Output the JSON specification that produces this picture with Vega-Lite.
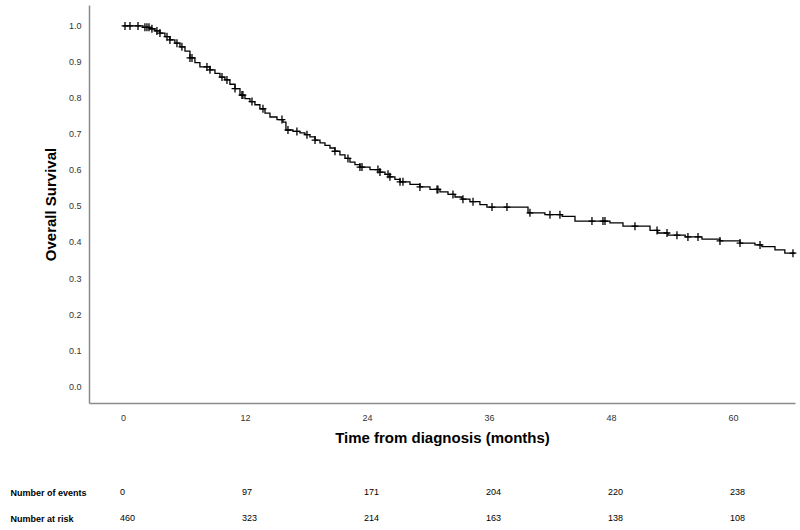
{
  "$schema": "https://vega.github.io/schema/vega-lite/v6.json",
  "padding": {"left": 10, "top": 5, "right": 5, "bottom": 5},
  "background": "white",
  "config": {"view": {"stroke": null}, "font": "Liberation Sans"},
  "datasets": {
    "km": [
      {"t":0,"s":1.0},{"t":1.97,"s":0.996},{"t":2.66,"s":0.992},{"t":3.15,"s":0.986},{"t":3.64,"s":0.98},{"t":4.13,"s":0.97},{"t":4.62,"s":0.961},{"t":5.11,"s":0.952},{"t":5.61,"s":0.942},{"t":6.1,"s":0.93},{"t":6.59,"s":0.911},{"t":7.08,"s":0.898},{"t":7.57,"s":0.886},{"t":8.56,"s":0.878},{"t":9.05,"s":0.868},{"t":9.54,"s":0.858},{"t":10.03,"s":0.85},{"t":10.52,"s":0.838},{"t":11.02,"s":0.826},{"t":11.51,"s":0.808},{"t":12.0,"s":0.798},{"t":12.49,"s":0.79},{"t":12.98,"s":0.781},{"t":13.47,"s":0.77},{"t":13.97,"s":0.758},{"t":14.46,"s":0.747},{"t":15.15,"s":0.74},{"t":15.74,"s":0.733},{"t":16.03,"s":0.711},{"t":16.72,"s":0.707},{"t":17.41,"s":0.703},{"t":17.9,"s":0.698},{"t":18.39,"s":0.692},{"t":18.89,"s":0.683},{"t":19.38,"s":0.675},{"t":19.87,"s":0.668},{"t":20.36,"s":0.661},{"t":20.85,"s":0.652},{"t":21.34,"s":0.642},{"t":21.84,"s":0.632},{"t":22.33,"s":0.622},{"t":22.82,"s":0.615},{"t":23.31,"s":0.608},{"t":24.3,"s":0.601},{"t":25.28,"s":0.594},{"t":25.77,"s":0.588},{"t":26.26,"s":0.581},{"t":26.75,"s":0.574},{"t":27.25,"s":0.567},{"t":28.23,"s":0.56},{"t":29.21,"s":0.553},{"t":30.2,"s":0.546},{"t":31.18,"s":0.539},{"t":31.97,"s":0.532},{"t":32.66,"s":0.525},{"t":33.34,"s":0.519},{"t":34.13,"s":0.512},{"t":35.11,"s":0.504},{"t":35.8,"s":0.497},{"t":39.84,"s":0.481},{"t":41.5,"s":0.476},{"t":43.2,"s":0.471},{"t":44.46,"s":0.458},{"t":47.9,"s":0.453},{"t":49.18,"s":0.444},{"t":51.84,"s":0.432},{"t":52.6,"s":0.425},{"t":53.6,"s":0.419},{"t":55.3,"s":0.414},{"t":56.95,"s":0.408},{"t":58.72,"s":0.403},{"t":60.69,"s":0.397},{"t":62.16,"s":0.392},{"t":62.85,"s":0.387},{"t":64.13,"s":0.378},{"t":65.1,"s":0.369},{"t":66.1,"s":0.369}
    ],
    "censor": [
      {"t":0.2,"s":1.0},{"t":0.69,"s":1.0},{"t":1.48,"s":1.0},{"t":2.16,"s":0.996},{"t":2.36,"s":0.996},{"t":2.56,"s":0.996},{"t":2.85,"s":0.992},{"t":3.34,"s":0.986},{"t":3.64,"s":0.98},{"t":4.33,"s":0.97},{"t":4.62,"s":0.961},{"t":5.31,"s":0.952},{"t":5.8,"s":0.942},{"t":6.59,"s":0.911},{"t":6.79,"s":0.911},{"t":8.26,"s":0.886},{"t":8.56,"s":0.878},{"t":9.74,"s":0.858},{"t":10.23,"s":0.85},{"t":11.02,"s":0.826},{"t":11.7,"s":0.808},{"t":11.8,"s":0.808},{"t":12.69,"s":0.79},{"t":13.77,"s":0.77},{"t":15.64,"s":0.74},{"t":16.23,"s":0.711},{"t":17.11,"s":0.707},{"t":18.1,"s":0.698},{"t":18.89,"s":0.683},{"t":20.85,"s":0.652},{"t":22.13,"s":0.632},{"t":23.31,"s":0.608},{"t":23.51,"s":0.608},{"t":25.08,"s":0.601},{"t":25.28,"s":0.594},{"t":26.07,"s":0.588},{"t":26.26,"s":0.581},{"t":27.25,"s":0.567},{"t":27.54,"s":0.567},{"t":29.21,"s":0.553},{"t":30.89,"s":0.546},{"t":30.98,"s":0.546},{"t":32.46,"s":0.532},{"t":33.44,"s":0.519},{"t":34.43,"s":0.512},{"t":36.3,"s":0.497},{"t":37.77,"s":0.497},{"t":40.03,"s":0.481},{"t":42.0,"s":0.476},{"t":42.98,"s":0.476},{"t":46.13,"s":0.458},{"t":47.21,"s":0.458},{"t":47.41,"s":0.458},{"t":50.36,"s":0.444},{"t":52.53,"s":0.432},{"t":53.51,"s":0.425},{"t":54.49,"s":0.419},{"t":55.57,"s":0.414},{"t":56.56,"s":0.414},{"t":58.72,"s":0.403},{"t":60.69,"s":0.397},{"t":62.66,"s":0.392},{"t":65.9,"s":0.369}
    ],
    "risk": [
      {"row":"Number of events","t":0,"v":"0"},{"row":"Number of events","t":12,"v":"97"},{"row":"Number of events","t":24,"v":"171"},{"row":"Number of events","t":36,"v":"204"},{"row":"Number of events","t":48,"v":"220"},{"row":"Number of events","t":60,"v":"238"},
      {"row":"Number at risk","t":0,"v":"460"},{"row":"Number at risk","t":12,"v":"323"},{"row":"Number at risk","t":24,"v":"214"},{"row":"Number at risk","t":36,"v":"163"},{"row":"Number at risk","t":48,"v":"138"},{"row":"Number at risk","t":60,"v":"108"}
    ]
  },
  "bounds": "flush",
  "spacing": 76,
  "vconcat": [
    {
      "width": 706,
      "height": 398,
      "layer": [
        {
          "data": {"name": "km"},
          "mark": {"type": "line", "interpolate": "step-after", "color": "black", "strokeWidth": 1.3},
          "encoding": {
            "x": {"field": "t", "type": "quantitative", "scale": {"domain": [-3.34, 66.1], "nice": false, "zero": false},
              "axis": {"values": [0, 12, 24, 36, 48, 60], "tickCount": 20, "title": "Time from diagnosis (months)", "grid": false, "ticks": false, "labelOverlap": false, "labelPadding": 10, "labelFontSize": 9, "labelColor": "#333", "domainColor": "#8c8c8c", "domainWidth": 1.5, "titleFontSize": 15, "titleFontWeight": "bold", "titleColor": "black", "titlePadding": 8}},
            "y": {"field": "s", "type": "quantitative", "scale": {"domain": [-0.047, 1.058], "nice": false, "zero": false},
              "axis": {"values": [0, 0.1, 0.2, 0.3, 0.4, 0.5, 0.6, 0.7, 0.8, 0.9, 1.0], "tickCount": 20, "format": ".1f", "title": "Overall Survival", "grid": false, "ticks": false, "labelOverlap": false, "labelPadding": 8, "labelFontSize": 9, "labelColor": "#333", "domainColor": "#8c8c8c", "domainWidth": 1.5, "titleFontSize": 15, "titleFontWeight": "bold", "titleColor": "black", "titlePadding": 10}}
          }
        },
        {
          "data": {"name": "censor"},
          "mark": {"type": "point", "shape": "M-0.85,0H0.85M0,-1V1", "filled": false, "stroke": "black", "strokeWidth": 1.3, "size": 64, "opacity": 1},
          "encoding": {
            "x": {"field": "t", "type": "quantitative"},
            "y": {"field": "s", "type": "quantitative"}
          }
        }
      ]
    },
    {
      "width": 706,
      "height": 52,
      "data": {"name": "risk"},
      "mark": {"type": "text", "align": "left", "dx": -3, "baseline": "middle", "fontSize": 9, "color": "black"},
      "encoding": {
        "x": {"field": "t", "type": "quantitative", "scale": {"domain": [-3.34, 66.1], "nice": false, "zero": false}, "axis": null},
        "y": {"field": "row", "type": "nominal", "sort": ["Number of events", "Number at risk"], "scale": {"paddingInner": 0, "paddingOuter": 0},
          "axis": {"title": null, "domain": false, "ticks": false, "labelAlign": "left", "labelPadding": 79, "labelFontSize": 9, "labelFontWeight": "bold", "labelColor": "black"}},
        "text": {"field": "v"}
      }
    }
  ]
}
